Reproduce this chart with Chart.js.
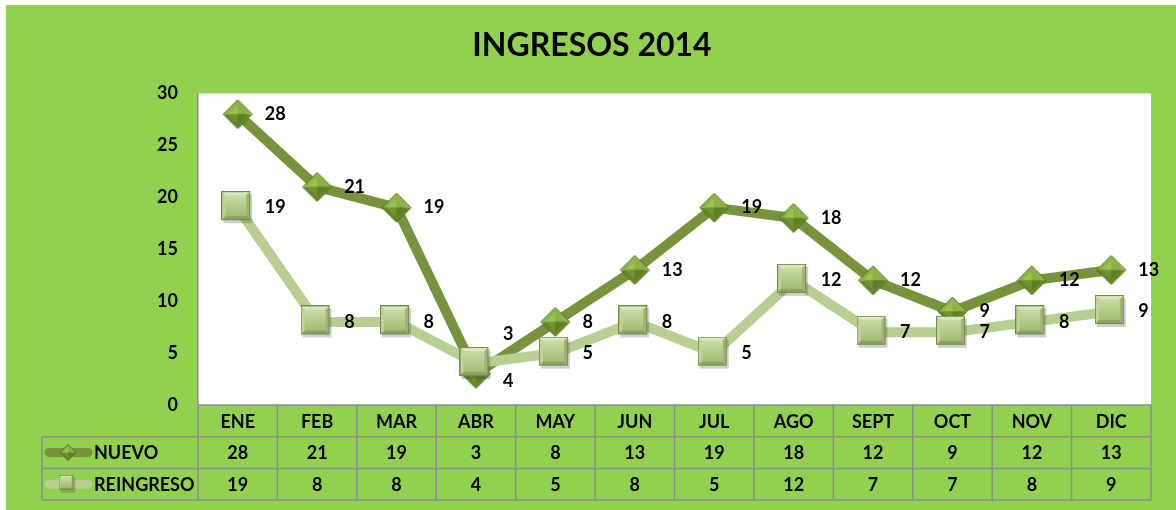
<!DOCTYPE html>
<html>
<head>
<meta charset="utf-8">
<script src="https://cdn.jsdelivr.net/npm/chart.js@4"></script>
<style>
  html, body { margin: 0; padding: 0; background: #fff; }
  canvas { display: block; }
</style>
</head>
<body>
<canvas id="ingresos" width="1176" height="510"></canvas>
<script>
var months = ["ENE","FEB","MAR","ABR","MAY","JUN","JUL","AGO","SEPT","OCT","NOV","DIC"];
var nuevo = [28,21,19,3,8,13,19,18,12,9,12,13];
var reingreso = [19,8,8,4,5,8,5,12,7,7,8,9];
var seriesNames = ["NUEVO","REINGRESO"];
var yMin = 0, yMax = 30, yStep = 5;

var green = "#92D050";
var darkLine = "#77933C";
var lightLine = "#B9CF92";
var gridGray = "#8C8C8C";
var boldFont = "bold 18px Lato";

function tri(g, pts, color) {
  g.beginPath();
  g.moveTo(pts[0][0], pts[0][1]);
  for (var i = 1; i < pts.length; i++) g.lineTo(pts[i][0], pts[i][1]);
  g.closePath();
  g.fillStyle = color;
  g.fill();
}

// diamond marker with a little bevel
function makeDiamond(s) {
  var c = document.createElement("canvas");
  c.width = s + 2; c.height = s + 2;
  var g = c.getContext("2d");
  g.translate(1, 1);
  var h = s / 2, k = s * 0.16;
  tri(g, [[h,0],[0,h],[s,h]], "#8DB446");
  tri(g, [[0,h],[h,s],[s,h]], "#66862A");
  tri(g, [[h,k],[k,h],[h,h]], "#9CC255");
  tri(g, [[h,k],[s-k,h],[h,h]], "#8AB147");
  tri(g, [[k,h],[h,s-k],[h,h]], "#729330");
  tri(g, [[s-k,h],[h,s-k],[h,h]], "#5F7E25");
  g.beginPath();
  g.moveTo(h,0); g.lineTo(s,h); g.lineTo(h,s); g.lineTo(0,h); g.closePath();
  g.strokeStyle = "#587222"; g.lineWidth = 1; g.stroke();
  return c;
}

// square marker with bevelled edges
function makeSquare(s) {
  var c = document.createElement("canvas");
  c.width = s + 4; c.height = s + 4;
  var g = c.getContext("2d");
  g.fillStyle = "rgba(60,60,60,0.25)";
  g.fillRect(2, 3, s, s);
  var b = s * 0.14;
  tri(g, [[0,0],[s,0],[s-b,b],[b,b]], "#DAE7BE");
  tri(g, [[0,0],[b,b],[b,s-b],[0,s]], "#C0D498");
  tri(g, [[s,0],[s,s],[s-b,s-b],[s-b,b]], "#9DB56E");
  tri(g, [[0,s],[b,s-b],[s-b,s-b],[s,s]], "#8BA35D");
  var gr = g.createLinearGradient(0, b, 0, s - b);
  gr.addColorStop(0, "#CADCA5");
  gr.addColorStop(1, "#A3BC74");
  g.fillStyle = gr;
  g.fillRect(b, b, s - 2 * b, s - 2 * b);
  g.strokeStyle = "#728A4C"; g.lineWidth = 1;
  g.strokeRect(0.5, 0.5, s - 1, s - 1);
  return c;
}

var diamondBig = makeDiamond(29);
var squareBig = makeSquare(29);
var diamondSmall = makeDiamond(16);
var squareSmall = makeSquare(15);

var background = {
  id: "background",
  beforeDraw: function(chart) {
    var ctx = chart.ctx, a = chart.chartArea;
    ctx.save();
    ctx.fillStyle = "#fff";
    ctx.fillRect(0, 0, chart.width, chart.height);
    ctx.fillStyle = green;
    ctx.fillRect(6, 5, chart.width - 6, chart.height - 5);
    ctx.fillStyle = "#fff";
    ctx.fillRect(a.left, a.top, a.right - a.left, a.bottom - a.top);
    ctx.restore();
  }
};

var valueLabels = {
  id: "valueLabels",
  afterDatasetsDraw: function(chart) {
    var ctx = chart.ctx;
    ctx.save();
    ctx.font = boldFont;
    ctx.fillStyle = "#000";
    ctx.textAlign = "left";
    ctx.textBaseline = "middle";
    chart.data.datasets.forEach(function(ds, di) {
      var meta = chart.getDatasetMeta(di);
      meta.data.forEach(function(pt, i) {
        var other = chart.data.datasets[1 - di].data[i];
        var dy = 0;
        if (Math.abs(other - ds.data[i]) <= 1) dy = di === 0 ? -40 : 18;
        ctx.fillText(String(ds.data[i]), pt.x + 27, pt.y + dy);
      });
    });
    ctx.restore();
  }
};

var dataTable = {
  id: "dataTable",
  afterDraw: function(chart) {
    var ctx = chart.ctx, x = chart.scales.x, a = chart.chartArea;
    var n = months.length;
    var colW = (a.right - a.left) / n;
    var rowH = 31.7;
    var top = a.bottom;
    var left = 42;
    ctx.save();
    ctx.strokeStyle = gridGray;
    ctx.lineWidth = 1.5;
    ctx.beginPath();
    // horizontal lines
    ctx.moveTo(a.left, top); ctx.lineTo(a.right, top);
    for (var r = 1; r <= 3; r++) {
      ctx.moveTo(left, top + r * rowH); ctx.lineTo(a.right, top + r * rowH);
    }
    // vertical lines
    ctx.moveTo(left, top + rowH); ctx.lineTo(left, top + 3 * rowH);
    for (var c = 0; c <= n; c++) {
      var cx = a.left + c * colW;
      ctx.moveTo(cx, top); ctx.lineTo(cx, top + 3 * rowH);
    }
    ctx.stroke();

    ctx.font = boldFont;
    ctx.fillStyle = "#000";
    ctx.textAlign = "center";
    ctx.textBaseline = "middle";
    var rows = [months, nuevo, reingreso];
    rows.forEach(function(row, r) {
      row.forEach(function(v, i) {
        ctx.fillText(String(v), x.getPixelForValue(i), top + r * rowH + rowH / 2 + 1);
      });
    });

    // legend keys in the row headers
    var keys = [[darkLine, diamondSmall], [lightLine, squareSmall]];
    keys.forEach(function(k, r) {
      var cy = top + (r + 1) * rowH + rowH / 2;
      ctx.strokeStyle = k[0];
      ctx.lineWidth = 9;
      ctx.lineCap = "round";
      ctx.beginPath();
      ctx.moveTo(49, cy); ctx.lineTo(88, cy);
      ctx.stroke();
      ctx.drawImage(k[1], 68 - k[1].width / 2, cy - k[1].height / 2);
      ctx.textAlign = "left";
      ctx.fillText(seriesNames[r], 94, cy + 1);
    });
    ctx.restore();
  }
};

new Chart("ingresos", {
  type: "line",
  data: {
    labels: months,
    datasets: [{
      label: seriesNames[0],
      data: nuevo,
      borderColor: darkLine,
      backgroundColor: darkLine,
      borderWidth: 10,
      pointStyle: diamondBig,
      pointRadius: 15,
      order: 2
    }, {
      label: seriesNames[1],
      data: reingreso,
      borderColor: lightLine,
      backgroundColor: lightLine,
      borderWidth: 10,
      pointStyle: squareBig,
      pointRadius: 15,
      order: 1
    }]
  },
  options: {
    responsive: false,
    animation: false,
    devicePixelRatio: 1,
    layout: { padding: { left: 29, right: 21, top: 0, bottom: 0 } },
    elements: { line: { tension: 0 } },
    plugins: {
      legend: { display: false },
      tooltip: { enabled: false },
      title: {
        display: true,
        text: "INGRESOS 2014",
        color: "#000",
        font: { family: "Lato", size: 32, weight: "bold" },
        padding: { top: 26, bottom: 29 }
      }
    },
    scales: {
      x: {
        offset: true,
        grid: { display: false },
        border: { display: false },
        ticks: { display: false },
        afterFit: function(s) { s.height = 105; }
      },
      y: {
        min: yMin,
        max: yMax,
        grid: { display: false, drawTicks: false },
        border: { display: true, color: gridGray, width: 1.5 },
        ticks: {
          stepSize: yStep,
          padding: 20,
          color: "#000",
          font: { family: "Lato", size: 18, weight: "bold" }
        },
        afterFit: function(s) { s.width = 169; }
      }
    }
  },
  plugins: [background, valueLabels, dataTable]
});
</script>
</body>
</html>
